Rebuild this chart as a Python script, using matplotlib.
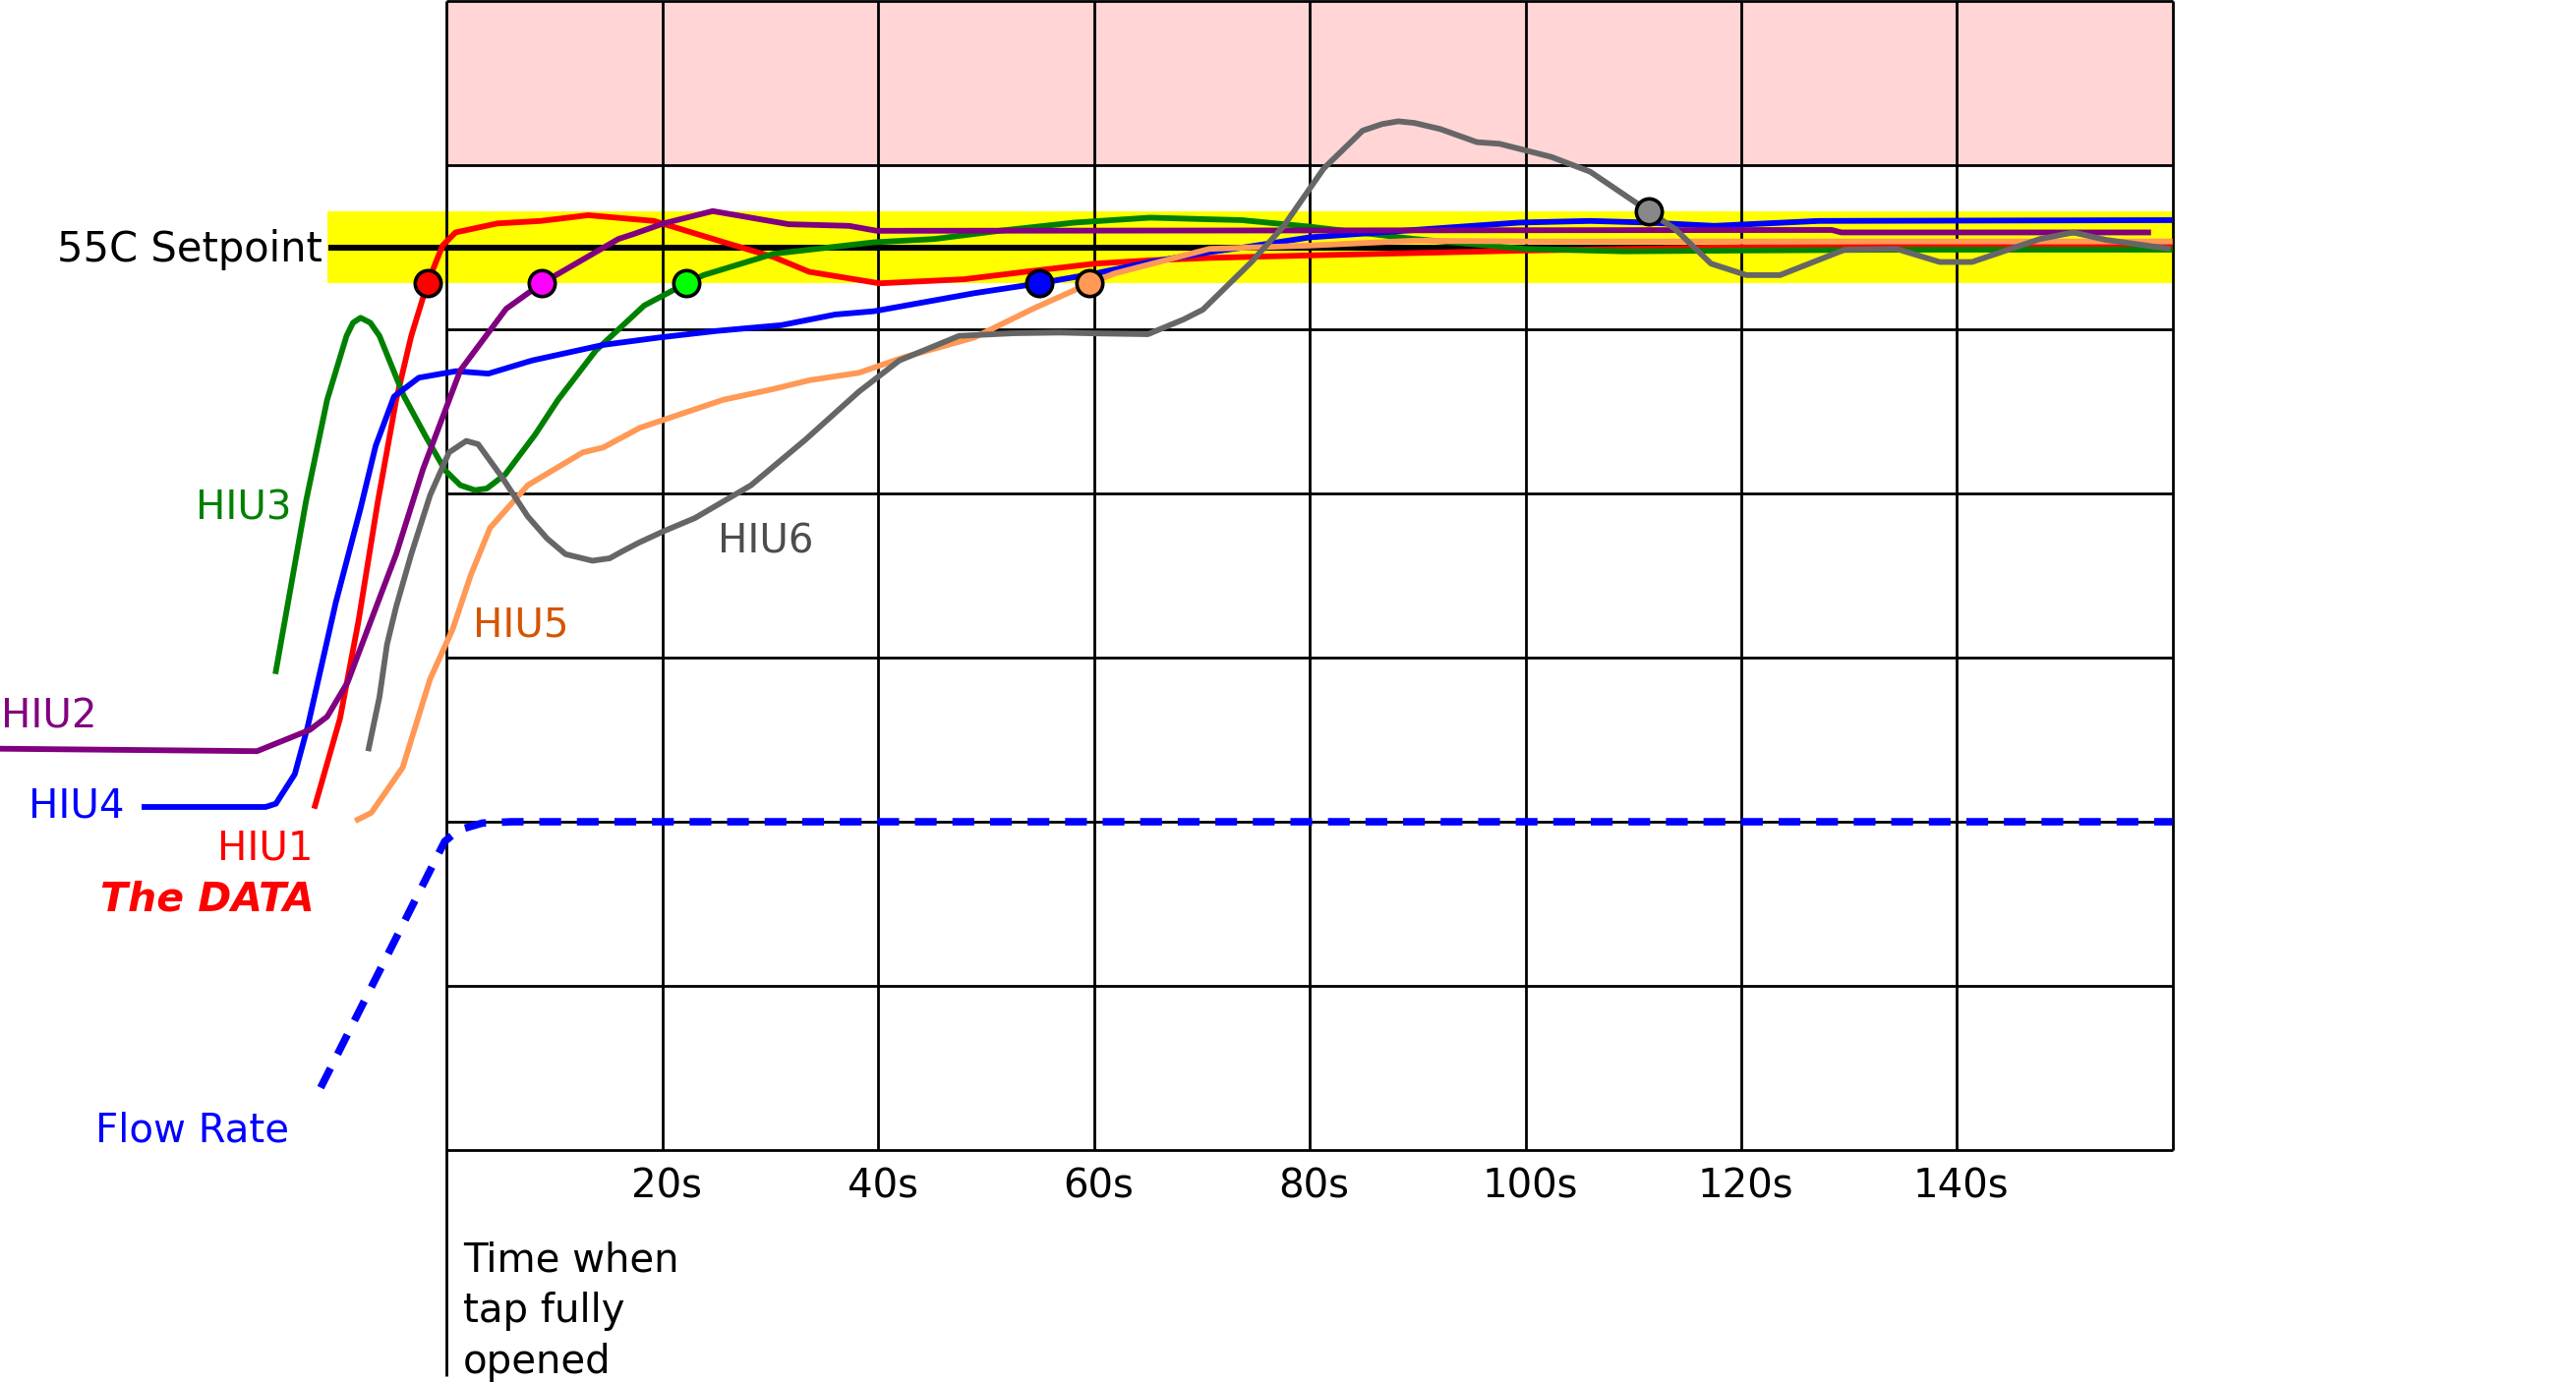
import matplotlib
matplotlib.use("Agg")
import matplotlib.pyplot as plt

# temps relevees (s) et temperatures (C) pour chaque HIU
hiu1_t = [-12.3, -9.9, -8.2, -6.4, -4.7, -3.3, -1.8, -0.4, 0.8, 4.7, 8.7, 13.1, 19.2, 25.7, 30.3, 33.6,
          40.1, 48.0, 53.6, 60.1, 65.2, 70.7, 80, 100, 120, 160]
hiu1_T = [20.8, 26.3, 32.2, 39.5, 45.7, 49.6, 52.8, 55.1, 55.9, 56.45, 56.6, 56.95, 56.6, 55.3, 54.4, 53.5,
          52.8, 53.05, 53.5, 54.0, 54.2, 54.35, 54.5, 54.8, 55.0, 55.1]

hiu2_t = [-41.5, -17.6, -12.7, -11.1, -9.2, -4.7, -2.2, 1.25, 5.5, 8.8, 15.9, 17.3, 20.1, 24.65, 31.7,
          37.3, 39.85, 128.4, 129.3, 158.0]
hiu2_T = [24.45, 24.3, 25.6, 26.4, 28.5, 36.3, 41.5, 47.5, 51.25, 52.8, 55.5, 55.8, 56.45, 57.2, 56.4,
          56.3, 56.0, 56.05, 55.9, 55.9]

hiu3_t = [-15.9, -13.05, -11.1, -9.3, -8.7, -8.0, -7.1, -6.25, -4.0, -1.9, -0.15, 1.25, 2.6, 3.7, 5.4,
          8.2, 10.3, 13.8, 18.3, 22.2, 23.8, 30.3, 39.6, 45.2, 51.2, 58.2, 65.2, 70.7, 73.7, 80,
          89.7, 100, 109.1, 120, 134.4, 160]
hiu3_T = [29.0, 39.55, 45.7, 49.6, 50.4, 50.7, 50.4, 49.6, 45.95, 43.4, 41.4, 40.5, 40.2, 40.3, 41.15,
          43.6, 45.7, 48.7, 51.45, 52.8, 53.3, 54.6, 55.3, 55.5, 56.0, 56.5, 56.8, 56.7, 56.65, 56.25,
          55.5, 54.9, 54.75, 54.8, 54.85, 54.85]

hiu4_t = [-28.3, -16.8, -15.85, -14.1, -12.9, -10.3, -8.0, -6.6, -4.9, -2.6, 0.85, 3.85, 7.9, 14.5, 19.7,
          25.0, 31.0, 36.0, 39.6, 48.9, 54.9, 60.1, 65.2, 70.7, 74, 80, 99.4, 106, 111.4, 117.5, 127.2, 160]
hiu4_T = [20.9, 20.9, 21.1, 22.9, 25.8, 33.35, 39.1, 42.9, 45.9, 47.05, 47.45, 47.3, 48.1, 49.05, 49.5,
          49.9, 50.25, 50.9, 51.1, 52.2, 52.8, 53.4, 54.1, 54.7, 55.0, 55.6, 56.5, 56.6, 56.5, 56.3, 56.6, 56.65]

hiu5_t = [-8.5, -7.0, -4.1, -1.55, 0.55, 2.2, 4.0, 7.5, 12.6, 14.5, 17.9, 25.6, 30.2, 33.65, 38.2, 42.4,
          48.9, 54.5, 59.6, 61.9, 66.6, 70.7, 80, 89.7, 100, 160]
hiu5_T = [20.05, 20.55, 23.3, 28.7, 31.75, 35.0, 37.9, 40.5, 42.5, 42.8, 44.0, 45.7, 46.35, 46.9, 47.35, 48.3,
          49.5, 51.3, 52.8, 53.4, 54.2, 54.9, 55.1, 55.4, 55.35, 55.35]

hiu6_t = [-7.3, -6.25, -5.55, -4.7, -3.3, -1.55, 0.2, 1.8, 2.9, 5.1, 7.5, 9.3, 11.0, 13.5, 15.1,
          16.2, 17.8, 20.1, 23.0, 28.2, 33.2, 38.2, 41.95, 47.5, 52.6, 56.8, 60.1, 65.0, 68.3, 70.1,
          74.6, 77.6, 81.3, 84.9, 86.7, 88.2, 89.7, 92.1, 95.5, 97.6, 102.4, 106.0, 111.4, 113.9, 117.2,
          120.5, 123.6, 129.6, 134.4, 138.4, 141.4, 147.7, 150.8, 153.8, 159.8]
hiu6_T = [24.3, 27.6, 30.8, 33.1, 36.3, 39.9, 42.5, 43.2, 43.0, 41.0, 38.6, 37.25, 36.3, 35.9, 36.05,
          36.45, 37.0, 37.7, 38.5, 40.5, 43.25, 46.2, 48.1, 49.6, 49.76, 49.8, 49.75, 49.7, 50.6, 51.2,
          54.1, 56.3, 59.8, 62.1, 62.5, 62.67, 62.57, 62.2, 61.4, 61.3, 60.5, 59.6, 57.2, 56.1, 54.0,
          53.3, 53.3, 54.85, 54.9, 54.1, 54.1, 55.5, 55.9, 55.45, 54.9]

flow_t = [-11.7, -0.2, 1.1, 3.3, 6.0, 160]
flow_v = [3.8, 18.8, 19.5, 19.92, 20.0, 20.0]

# points ou chaque HIU atteint la bande
mark_t = [-1.8, 8.8, 22.2, 54.9, 59.6, 111.4]
mark_T = [52.8, 52.8, 52.8, 52.8, 52.8, 57.2]
mark_c = ["#ff0000", "#ff00ff", "#00ff00", "#0000ff", "#ff9955", "#888888"]

setpoint = 55.0
band_lo, band_hi = 52.8, 57.2
tick_s = [20, 40, 60, 80, 100, 120, 140]

fig = plt.figure(figsize=(26.2, 14.06), dpi=100)
ax = fig.add_axes([0, 0, 1, 1])
ax.set_xlim(-41.43, 197.4)
ax.set_ylim(-14.13, 70.06)
ax.axis("off")

# zones de couleur
ax.fill_between([0, 160], 60, 70, color="#ffd5d5", lw=0, zorder=1)
ax.fill_between([-11.05, 160.2], band_lo, band_hi, color="#ffff00", lw=0, zorder=1)

# grille
for y in range(0, 71, 10):
    ax.plot([0, 160], [y, y], color="black", lw=2.0, zorder=2, solid_capstyle="butt")
for x in range(20, 161, 20):
    ax.plot([x, x], [0, 70], color="black", lw=2.0, zorder=2, solid_capstyle="butt")
ax.plot([0, 0], [-13.8, 70], color="black", lw=2.0, zorder=2, solid_capstyle="butt")

ax.plot([-11.0, 160], [setpoint, setpoint], color="black", lw=4.3, zorder=3, solid_capstyle="butt")

kw = dict(lw=4.2, solid_capstyle="butt", solid_joinstyle="round", zorder=4)
ax.plot(hiu1_t, hiu1_T, color="#ff0000", **kw)
ax.plot(hiu3_t, hiu3_T, color="#008000", **kw)
ax.plot(hiu4_t, hiu4_T, color="#0000ff", **kw)
ax.plot(hiu2_t, hiu2_T, color="#800080", **kw)
ax.plot(hiu5_t, hiu5_T, color="#ff9955", **kw)
ax.plot(hiu6_t, hiu6_T, color="#666666", **kw)

ax.plot(flow_t, flow_v, color="#0000ff", lw=5.5, dashes=(2.9, 2.1), zorder=5,
        dash_capstyle="butt")

for i in range(len(mark_t)):
    ax.plot(mark_t[i], mark_T[i], "o", ms=19, mfc=mark_c[i], mec="black", mew=2.6, zorder=6)

# textes
fs = 29
ax.text(-11.5, 54.13, "55C Setpoint", fontsize=30, ha="right", va="baseline", color="black")
ax.text(-14.4, 38.4, "HIU3", fontsize=fs, ha="right", va="baseline", color="#008000")
ax.text(-41.3, 25.7, "HIU2", fontsize=fs, ha="left", va="baseline", color="#800080")
ax.text(-38.8, 20.3, "HIU4", fontsize=fs, ha="left", va="baseline", color="#0000ff")
ax.text(-12.4, 17.7, "HIU1", fontsize=fs, ha="right", va="baseline", color="#ff0000")
ax.text(-12.3, 14.57, "The DATA", fontsize=29.5, ha="right", va="baseline", color="#ff0000",
        fontweight="bold", fontstyle="italic")
ax.text(-32.6, 0.5, "Flow Rate", fontsize=fs, ha="left", va="baseline", color="#0000ff")
ax.text(2.45, 31.3, "HIU5", fontsize=fs, ha="left", va="baseline", color="#d45500")
ax.text(25.1, 36.4, "HIU6", fontsize=fs, ha="left", va="baseline", color="#4d4d4d")

for s in tick_s:
    ax.text(s + 0.4, -2.9, str(s) + "s", fontsize=fs, ha="center", va="baseline", color="black")

ax.text(1.5, -7.38, "Time when", fontsize=fs, ha="left", va="baseline", color="black")
ax.text(1.5, -10.48, "tap fully", fontsize=fs, ha="left", va="baseline", color="black")
ax.text(1.5, -13.57, "opened", fontsize=fs, ha="left", va="baseline", color="black")

fig.savefig("out.png", dpi=100, facecolor="white")
